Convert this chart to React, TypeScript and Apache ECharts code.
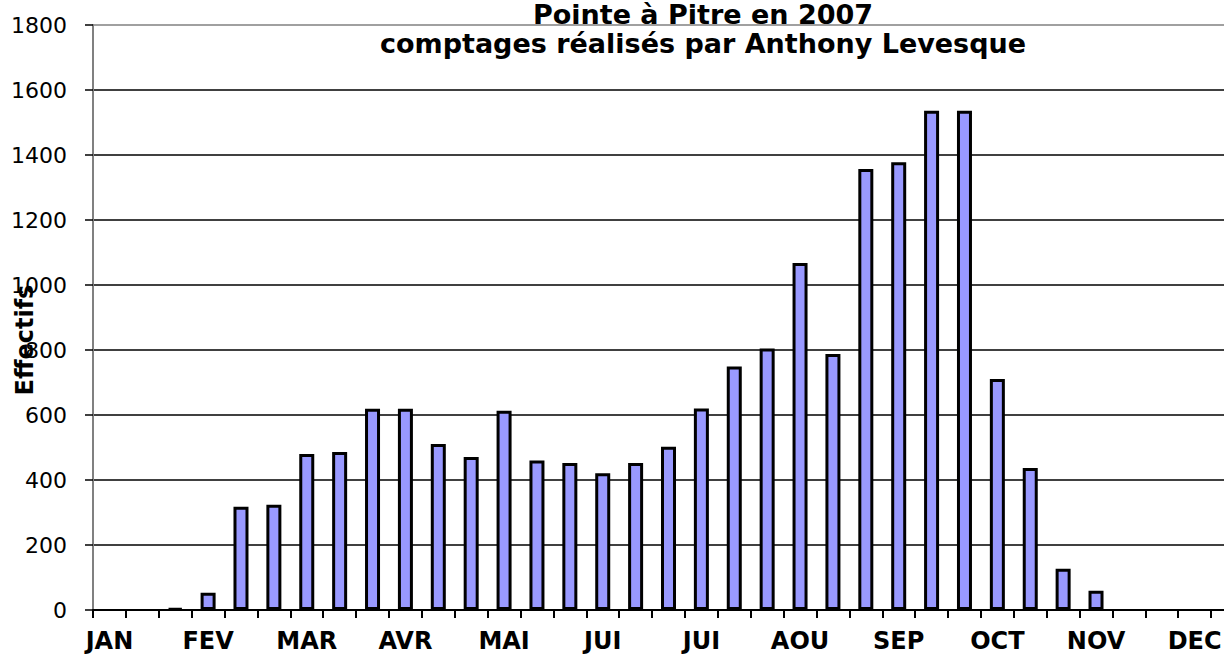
import React, { useEffect, useRef } from "react";
import * as echarts from "echarts";

const titleLine1 = "Pointe à Pitre en 2007";
const titleLine2 = "comptages réalisés par Anthony Levesque";
const yAxisTitle = "Effectifs";

// 35 slots (3 per month); month names on the first slot of each month
const categories = [
  "JAN", "", "", "FEV", "", "", "MAR", "", "", "AVR", "", "",
  "MAI", "", "", "JUI", "", "", "JUI", "", "", "AOU", "", "",
  "SEP", "", "", "OCT", "", "", "NOV", "", "", "DEC", "",
];

const counts = [
  null, null, 5, 53, 318, 324, 480, 486, 619, 619, 511, 471,
  613, 460, 452, 421, 452, 502, 620, 749, 805, 1068, 788, 1357,
  1378, 1536, 1536, 711, 437, 127, 59, null, null, null, null,
];

const yMin = 0;
const yMax = 1800;
const yStep = 200;

const FONT = "'DejaVu Sans', sans-serif";

export default function App() {
  const ref = useRef<HTMLDivElement>(null);

  useEffect(() => {
    document.body.style.margin = "0";
    if (!ref.current) return;
    const chart = echarts.init(ref.current, null, { renderer: "svg" });
    const splitColors: string[] = [];
    for (let v = yMin; v <= yMax; v += yStep) {
      splitColors.push(v === yMax ? "#808080" : "#000000");
    }
    chart.setOption({
      animation: false,
      backgroundColor: "#ffffff",
      grid: {
        left: 93,
        right: -20,
        top: 25,
        bottom: 47,
        containLabel: false,
        outerBoundsMode: "none",
      },
      xAxis: {
        type: "category",
        data: categories,
        boundaryGap: true,
        axisLine: { show: true, lineStyle: { color: "#000", width: 2 } },
        axisTick: {
          show: true,
          interval: 0,
          length: 8,
          lineStyle: { color: "#000", width: 2 },
        },
        axisLabel: {
          interval: 0,
          margin: 19,
          color: "#000",
          fontSize: 24,
          fontWeight: "bold",
          fontFamily: FONT,
        },
        splitLine: { show: false },
      },
      yAxis: {
        type: "value",
        min: yMin,
        max: yMax,
        interval: yStep,
        axisLine: { show: true, lineStyle: { color: "#808080", width: 2 } },
        axisTick: { show: true, length: 8, lineStyle: { color: "#000", width: 1.5 } },
        axisLabel: {
          margin: 26,
          color: "#000",
          fontSize: 22,
          fontFamily: FONT,
          formatter: (v: number) => String(v),
        },
        splitLine: { show: true, lineStyle: { color: splitColors, width: 1.5 } },
      },
      series: [
        {
          type: "bar",
          data: counts,
          barWidth: 15,
          itemStyle: { color: "#9999FF", borderColor: "#000000", borderWidth: 3 },
        },
      ],
      graphic: [
        {
          type: "text",
          x: 703,
          y: 14,
          style: {
            text: titleLine1,
            fill: "#000",
            font: `bold 27px ${FONT}`,
            align: "center",
            verticalAlign: "middle",
          },
        },
        {
          type: "text",
          x: 703,
          y: 43,
          style: {
            text: titleLine2,
            fill: "#000",
            font: `bold 27px ${FONT}`,
            align: "center",
            verticalAlign: "middle",
          },
        },
        {
          type: "text",
          x: 25,
          y: 340,
          rotation: Math.PI / 2,
          style: {
            text: yAxisTitle,
            fill: "#000",
            font: `bold 24px ${FONT}`,
            align: "center",
            verticalAlign: "middle",
          },
        },
      ],
    });
    return () => chart.dispose();
  }, []);

  return <div ref={ref} style={{ width: 1224, height: 657 }} />;
}
